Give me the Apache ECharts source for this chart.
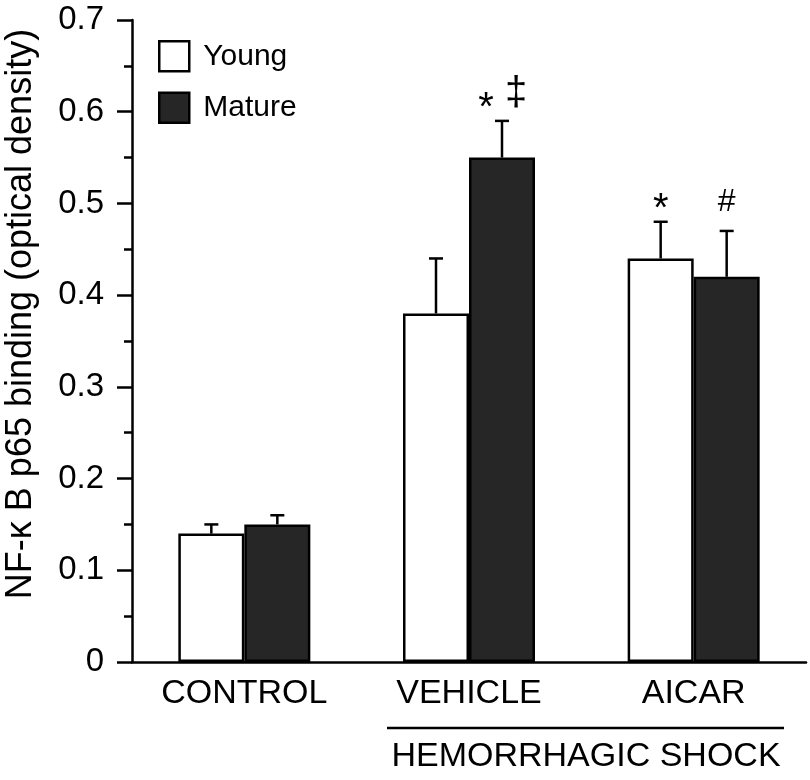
<!DOCTYPE html>
<html>
<head>
<meta charset="utf-8">
<script src="https://cdn.jsdelivr.net/npm/echarts@6/dist/echarts.min.js"></script>
<style>html,body{margin:0;padding:0;background:#fff;}#c{width:810px;height:780px;}</style>
</head>
<body>
<div id="c"></div>
<script>
const categories = ['CONTROL', 'VEHICLE', 'AICAR'];
const youngValues = [0.14, 0.38, 0.44];
const youngErrors = [0.01, 0.06, 0.04];
const matureValues = [0.15, 0.55, 0.42];
const matureErrors = [0.01, 0.04, 0.05];
const youngMarks = ['', '', '*'];
const matureMarks = ['', '* \u2021', '#'];
const yMin = 0, yMax = 0.7, yInterval = 0.1;

const FONT = "'Liberation Sans', Arial, Helvetica, sans-serif";
const BAR_W = 66;
const chart = echarts.init(document.getElementById('c'), null, {renderer: 'canvas'});

function glyphStyle(g) {
  if (g === '*') return {size: 40, dy: -12};
  if (g === '\u2021') return {size: 40, dy: -27};
  return {size: 32, dy: -29};
}

function errSeries(name, values, errors, marks, sign) {
  return {
    type: 'custom',
    name: name + ' err',
    z: 5,
    data: values.map((v, i) => [i, v, errors[i]]),
    renderItem: function (params, api) {
      const i = api.value(0), v = api.value(1), e = api.value(2);
      const b = api.coord([i, v]);
      const t = api.coord([i, v + e]);
      const x = b[0] + sign * BAR_W / 2;
      const children = [
        {type: 'line', shape: {x1: x, y1: b[1], x2: x, y2: t[1]}, style: {stroke: '#000', lineWidth: 2.5}},
        {type: 'line', shape: {x1: x - 7, y1: t[1], x2: x + 7, y2: t[1]}, style: {stroke: '#000', lineWidth: 2.5}}
      ];
      const glyphs = marks[i] ? marks[i].split(' ') : [];
      glyphs.forEach((g, k) => {
        const dx = glyphs.length > 1 ? (k === 0 ? -16 : 14) : 0;
        const gs = glyphStyle(g);
        children.push({type: 'text', style: {text: g, x: x + dx, y: t[1] + gs.dy, textAlign: 'center', textVerticalAlign: 'middle', font: gs.size + 'px ' + FONT, fill: '#000'}});
      });
      return {type: 'group', children: children};
    }
  };
}

chart.setOption({
  animation: false,
  backgroundColor: '#fff',
  textStyle: {fontFamily: FONT},
  grid: {left: 132, right: 4, top: 20, bottom: 118, outerBoundsMode: 'none', containLabel: false},
  legend: {
    orient: 'vertical', left: 153, top: 35, itemWidth: 30, itemHeight: 30, itemGap: 19,
    icon: 'rect',
    data: ['Young', 'Mature'],
    textStyle: {fontSize: 30, color: '#000', fontFamily: FONT, padding: [0, 0, 0, 9]},
    itemStyle: {borderColor: '#000', borderWidth: 2.5}
  },
  xAxis: {
    type: 'category', data: categories,
    axisLine: {lineStyle: {color: '#000', width: 2.5}},
    axisTick: {show: false},
    axisLabel: {color: '#000', fontSize: 34, margin: 15, fontFamily: FONT}
  },
  yAxis: {
    type: 'value', min: yMin, max: yMax, interval: yInterval,
    name: 'NF-\u03ba B p65 binding (optical density)',
    nameLocation: 'middle', nameGap: 93, nameRotate: 90,
    nameTextStyle: {fontSize: 36, color: '#000', fontFamily: FONT, padding: [0, 0, 0, 54]},
    axisLine: {show: true, lineStyle: {color: '#000', width: 2.5}},
    axisTick: {show: true, length: 15, lineStyle: {color: '#000', width: 2.5}},
    minorTick: {show: true, splitNumber: 2, length: 8, lineStyle: {color: '#000', width: 2.5}},
    splitLine: {show: false},
    axisLabel: {color: '#000', fontSize: 33, margin: 28, fontFamily: FONT,
      formatter: v => v === 0 ? '0' : v.toFixed(1)}
  },
  series: [
    {type: 'bar', name: 'Young', data: youngValues, barWidth: BAR_W, barGap: '0%',
      itemStyle: {color: '#fff', borderColor: '#000', borderWidth: 2.5}},
    {type: 'bar', name: 'Mature', data: matureValues, barWidth: BAR_W, barGap: '0%',
      itemStyle: {color: '#262626', borderColor: '#000', borderWidth: 2.5}},
    errSeries('Young', youngValues, youngErrors, youngMarks, -1),
    errSeries('Mature', matureValues, matureErrors, matureMarks, 1)
  ],
  graphic: [
    {type: 'line', shape: {x1: 387, y1: 728, x2: 784, y2: 728}, style: {stroke: '#000', lineWidth: 2.5}},
    {type: 'text', x: 586, y: 757, style: {text: 'HEMORRHAGIC SHOCK', font: '34px ' + FONT, fill: '#000', textAlign: 'center', textVerticalAlign: 'middle'}}
  ]
});
</script>
</body>
</html>
